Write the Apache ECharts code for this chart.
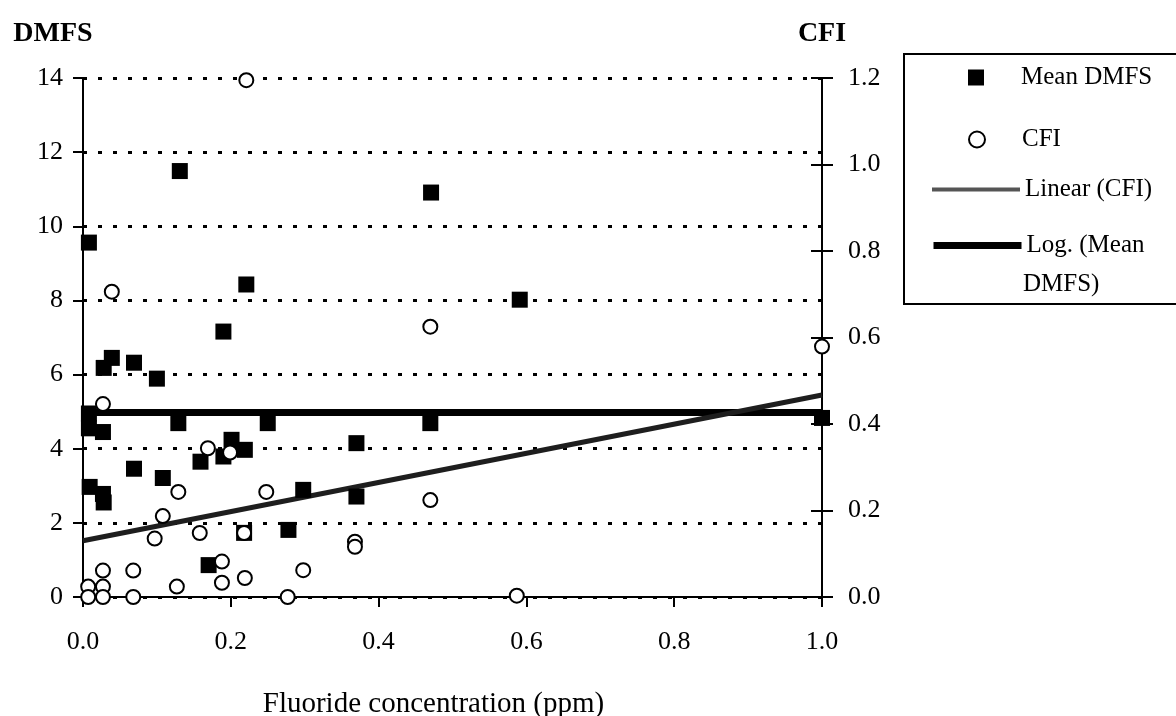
<!DOCTYPE html>
<html>
<head>
<meta charset="utf-8">
<script src="https://cdn.jsdelivr.net/npm/echarts@6/dist/echarts.min.js"></script>
<style>
html,body{margin:0;padding:0;background:#fff;}
#chart{width:1176px;height:716px;}
</style>
</head>
<body>
<div id="chart"></div>
<script>
// ---- data ----
const xTicks = [0.0, 0.2, 0.4, 0.6, 0.8, 1.0];
const dmfsTicks = [0, 2, 4, 6, 8, 10, 12, 14];
const cfiTicks = [0.0, 0.2, 0.4, 0.6, 0.8, 1.0, 1.2];

// Mean DMFS (left axis): fluoride ppm, DMFS
const dmfsFluoride = [0.008, 0.008, 0.008, 0.009, 0.028, 0.039, 0.027, 0.027, 0.028, 0.069, 0.069, 0.100, 0.108, 0.131, 0.129, 0.159, 0.170, 0.190, 0.190, 0.201, 0.221, 0.219, 0.218, 0.250, 0.278, 0.298, 0.370, 0.370, 0.471, 0.470, 0.591, 1.0];
const dmfsValues   = [9.56, 4.95, 4.55, 2.97, 6.18, 6.45, 4.45, 2.78, 2.55, 6.32, 3.46, 5.89, 3.21, 11.49, 4.69, 3.65, 0.86, 7.16, 3.79, 4.24, 8.43, 3.97, 1.73, 4.69, 1.81, 2.89, 4.15, 2.71, 10.91, 4.69, 8.02, 4.83];

// CFI (right axis): fluoride ppm, CFI
const cfiFluoride = [0.221, 0.039, 0.470, 1.0, 0.027, 0.169, 0.199, 0.129, 0.248, 0.470, 0.108, 0.158, 0.218, 0.097, 0.368, 0.368, 0.188, 0.027, 0.068, 0.298, 0.219, 0.188, 0.127, 0.007, 0.027, 0.007, 0.027, 0.068, 0.277, 0.587];
const cfiValues   = [1.195, 0.706, 0.625, 0.579, 0.446, 0.344, 0.334, 0.243, 0.243, 0.224, 0.187, 0.148, 0.148, 0.135, 0.128, 0.116, 0.082, 0.061, 0.061, 0.062, 0.044, 0.033, 0.024, 0.024, 0.024, 0.0, 0.0, 0.0, 0.0, 0.003];

// Trend lines (end points)
const linearCfiX = [0.0, 1.0];
const linearCfiY = [0.13, 0.467];
const logDmfsX = [0.0, 1.0];
const logDmfsY = [4.98, 4.98];

const seriesNames = ['Mean DMFS', 'CFI', 'Linear (CFI)', 'Log. (Mean DMFS)'];
const logLegendLines = ['Log. (Mean', 'DMFS)'];
// ---------------------------------------

const zip = (a, b) => a.map((v, i) => [v, b[i]]);
const FONT = '"Liberation Serif", "Times New Roman", serif';

const chart = echarts.init(document.getElementById('chart'), null, {renderer: 'canvas'});

const legendText = {fontFamily: FONT, fontSize: 25, color: '#000'};
const legendTextPadded = Object.assign({}, legendText, {
  rich: {p: {width: 32, fontFamily: FONT, fontSize: 25}}
});

const option = {
  backgroundColor: '#fff',
  animation: false,
  grid: {left: 83, right: 354, top: 78, bottom: 119, containLabel: false, outerBoundsMode: 'none'},
  xAxis: {
    type: 'value', min: xTicks[0], max: xTicks[xTicks.length - 1], interval: 0.2,
    name: 'Fluoride concentration (ppm)', nameLocation: 'middle', nameGap: 93,
    nameTextStyle: {fontFamily: FONT, fontSize: 29, color: '#000', padding: [0, 38, 0, 0]},
    axisLine: {lineStyle: {color: '#000', width: 2}},
    axisTick: {inside: false, length: 10, lineStyle: {color: '#000', width: 2}},
    axisLabel: {margin: 32, fontFamily: FONT, fontSize: 26, color: '#000', formatter: v => v.toFixed(1)},
    splitLine: {show: false}
  },
  yAxis: [
    {
      type: 'value', position: 'left', min: dmfsTicks[0], max: dmfsTicks[dmfsTicks.length - 1], interval: 2,
      name: 'DMFS', nameLocation: 'end', nameGap: 30,
      nameTextStyle: {fontFamily: FONT, fontSize: 28, fontWeight: 'bold', color: '#000', padding: [0, 60, 0, 0]},
      axisLine: {show: true, lineStyle: {color: '#000', width: 2}},
      axisTick: {inside: false, length: 10, lineStyle: {color: '#000', width: 2}},
      axisLabel: {margin: 20, fontFamily: FONT, fontSize: 26, color: '#000'},
      splitLine: {show: true, lineStyle: {color: '#000', width: 3, type: [4, 11]}}
    },
    {
      type: 'value', position: 'right', min: cfiTicks[0], max: cfiTicks[cfiTicks.length - 1], interval: 0.2,
      name: 'CFI', nameLocation: 'end', nameGap: 30,
      nameTextStyle: {fontFamily: FONT, fontSize: 28, fontWeight: 'bold', color: '#000'},
      axisLine: {show: true, lineStyle: {color: '#000', width: 2}},
      axisTick: {inside: false, length: 11, lineStyle: {color: '#000', width: 2}},
      axisLabel: {margin: 26, fontFamily: FONT, fontSize: 26, color: '#000', formatter: v => v.toFixed(1)},
      splitLine: {show: false}
    },
    {
      type: 'value', position: 'right', min: cfiTicks[0], max: cfiTicks[cfiTicks.length - 1], interval: 0.2,
      axisLine: {show: false},
      axisTick: {show: true, inside: true, length: 11, lineStyle: {color: '#000', width: 2}},
      axisLabel: {show: false},
      splitLine: {show: false}
    }
  ],
  legend: [
    {
      data: [{name: seriesNames[0], icon: 'rect'}],
      left: 968, top: 65, padding: 0, itemWidth: 16, itemHeight: 16,
      selectedMode: false, formatter: '{p| }{name}', textStyle: legendTextPadded
    },
    {
      data: [{name: seriesNames[1]}],
      left: 968, top: 127, padding: 0, itemWidth: 16, itemHeight: 16,
      selectedMode: false, formatter: '{p| }{name}', textStyle: legendTextPadded
    },
    {
      data: [{name: seriesNames[2]}],
      left: 930, top: 177, padding: 0, itemWidth: 88, itemHeight: 8,
      selectedMode: false, textStyle: legendText,
      lineStyle: {width: 4, color: '#555'}, itemStyle: {opacity: 0}
    },
    {
      data: [{name: seriesNames[3]}],
      left: 930, top: 233, padding: 0, itemWidth: 88, itemHeight: 8,
      selectedMode: false,
      formatter: () => logLegendLines[0],
      textStyle: legendText,
      lineStyle: {width: 7}, itemStyle: {opacity: 0}
    }
  ],
  graphic: [
    {
      type: 'rect', z: -1, silent: true,
      shape: {x: 904, y: 54, width: 290, height: 250},
      style: {fill: 'none', stroke: '#000', lineWidth: 2}
    },
    {
      type: 'text', silent: true, left: 1023, top: 272,
      style: {text: logLegendLines[1], fontFamily: FONT, fontSize: 25, fill: '#000'}
    }
  ],
  series: [
    {
      name: seriesNames[3], type: 'line', yAxisIndex: 0,
      data: zip(logDmfsX, logDmfsY), symbol: 'none', clip: false, z: 2,
      lineStyle: {color: '#000', width: 7}, itemStyle: {color: '#000'}
    },
    {
      name: seriesNames[2], type: 'line', yAxisIndex: 1,
      data: zip(linearCfiX, linearCfiY), symbol: 'none', clip: false, z: 2,
      lineStyle: {color: '#1e1e1e', width: 5}, itemStyle: {color: '#1e1e1e'}
    },
    {
      name: seriesNames[0], type: 'scatter', yAxisIndex: 0,
      data: zip(dmfsFluoride, dmfsValues), symbol: 'rect', symbolSize: 16, clip: false, z: 3,
      itemStyle: {color: '#000', opacity: 1}
    },
    {
      name: seriesNames[1], type: 'scatter', yAxisIndex: 1,
      data: zip(cfiFluoride, cfiValues), symbol: 'emptyCircle', symbolSize: 14, clip: false, z: 4,
      itemStyle: {color: '#000', borderColor: '#000', borderWidth: 3, opacity: 1}
    }
  ]
};
chart.setOption(option);
</script>
</body>
</html>
